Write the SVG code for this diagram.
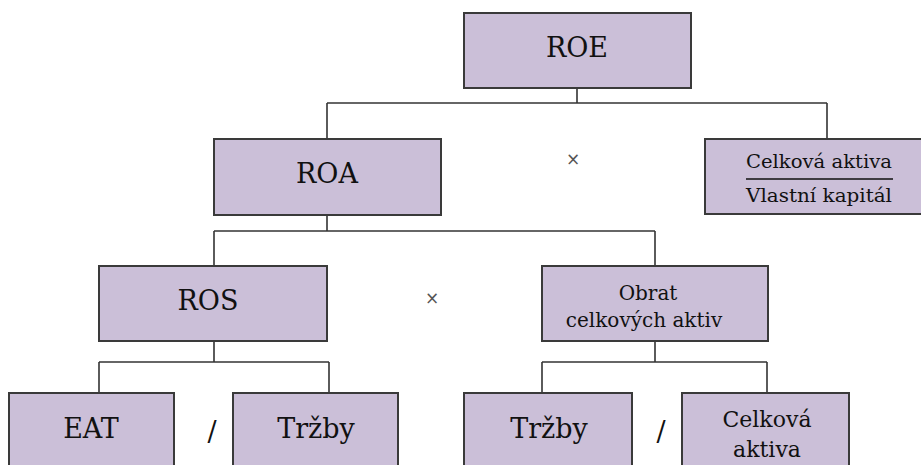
<svg xmlns="http://www.w3.org/2000/svg" width="921" height="465" viewBox="0 0 921 465">
<style>
.box{fill:#cbbfd8;stroke:#3a3a3a;stroke-width:2}
.t{font-family:'DejaVu Serif',serif;fill:#111;text-anchor:middle}
.big{font-size:27px}
.mid{font-size:20px}
.mid2{font-size:22px}
.sm{font-size:18px}
.op{font-family:'DejaVu Sans',sans-serif;fill:#555;font-size:17px;text-anchor:middle}
.conn line{stroke:#333;stroke-width:1.6}
</style>
<rect width="921" height="465" fill="#fff"/>
<g class="conn">
<line x1="577" y1="88" x2="577" y2="103"/>
<line x1="327" y1="103" x2="827" y2="103"/>
<line x1="327" y1="103" x2="327" y2="139"/>
<line x1="827" y1="103" x2="827" y2="139"/>
<line x1="327" y1="215" x2="327" y2="231"/>
<line x1="214" y1="231" x2="655" y2="231"/>
<line x1="214" y1="231" x2="214" y2="266"/>
<line x1="655" y1="231" x2="655" y2="266"/>
<line x1="214" y1="341" x2="214" y2="362"/>
<line x1="99" y1="362" x2="329" y2="362"/>
<line x1="99" y1="362" x2="99" y2="393"/>
<line x1="329" y1="362" x2="329" y2="393"/>
<line x1="655" y1="341" x2="655" y2="362"/>
<line x1="542" y1="362" x2="767" y2="362"/>
<line x1="542" y1="362" x2="542" y2="393"/>
<line x1="767" y1="362" x2="767" y2="393"/>
</g>
<g id="roe"><rect class="box" x="464" y="13" width="227" height="75"/><text class="t big" x="577" y="57">ROE</text></g>
<g id="roa"><rect class="box" x="214" y="139" width="227" height="76"/><text class="t big" x="327" y="183">ROA</text></g>
<g id="pakost"><rect class="box" x="705" y="139" width="222" height="75"/>
<text class="t sm" x="819" y="168" textLength="146" lengthAdjust="spacingAndGlyphs">Celková aktiva</text>
<line x1="746" y1="179" x2="893" y2="179" stroke="#111" stroke-width="1.5"/>
<text class="t sm" x="819" y="202" textLength="146" lengthAdjust="spacingAndGlyphs">Vlastní kapitál</text></g>
<g id="ros"><rect class="box" x="99" y="266" width="228" height="75"/><text class="t big" x="208" y="310">ROS</text></g>
<g id="obrat"><rect class="box" x="542" y="266" width="226" height="75"/>
<text class="t mid" x="648" y="300">Obrat</text>
<text class="t mid" x="644" y="327">celkových aktiv</text></g>
<g id="eat"><rect class="box" x="9" y="393" width="165" height="80"/><text class="t big" x="91" y="438">EAT</text></g>
<g id="trzby1"><rect class="box" x="233" y="393" width="165" height="80"/><text class="t big" x="316" y="438">Tržby</text></g>
<g id="trzby2"><rect class="box" x="464" y="393" width="168" height="80"/><text class="t big" x="549" y="438">Tržby</text></g>
<g id="aktiva"><rect class="box" x="682" y="393" width="167" height="80"/>
<text class="t mid2" x="767" y="427">Celková</text>
<text class="t mid2" x="767" y="457">aktiva</text></g>
<text class="t big" x="212" y="441">/</text>
<text class="t big" x="661" y="441">/</text>
<text class="op" x="573" y="165">×</text>
<text class="op" x="432" y="304">×</text>
</svg>
